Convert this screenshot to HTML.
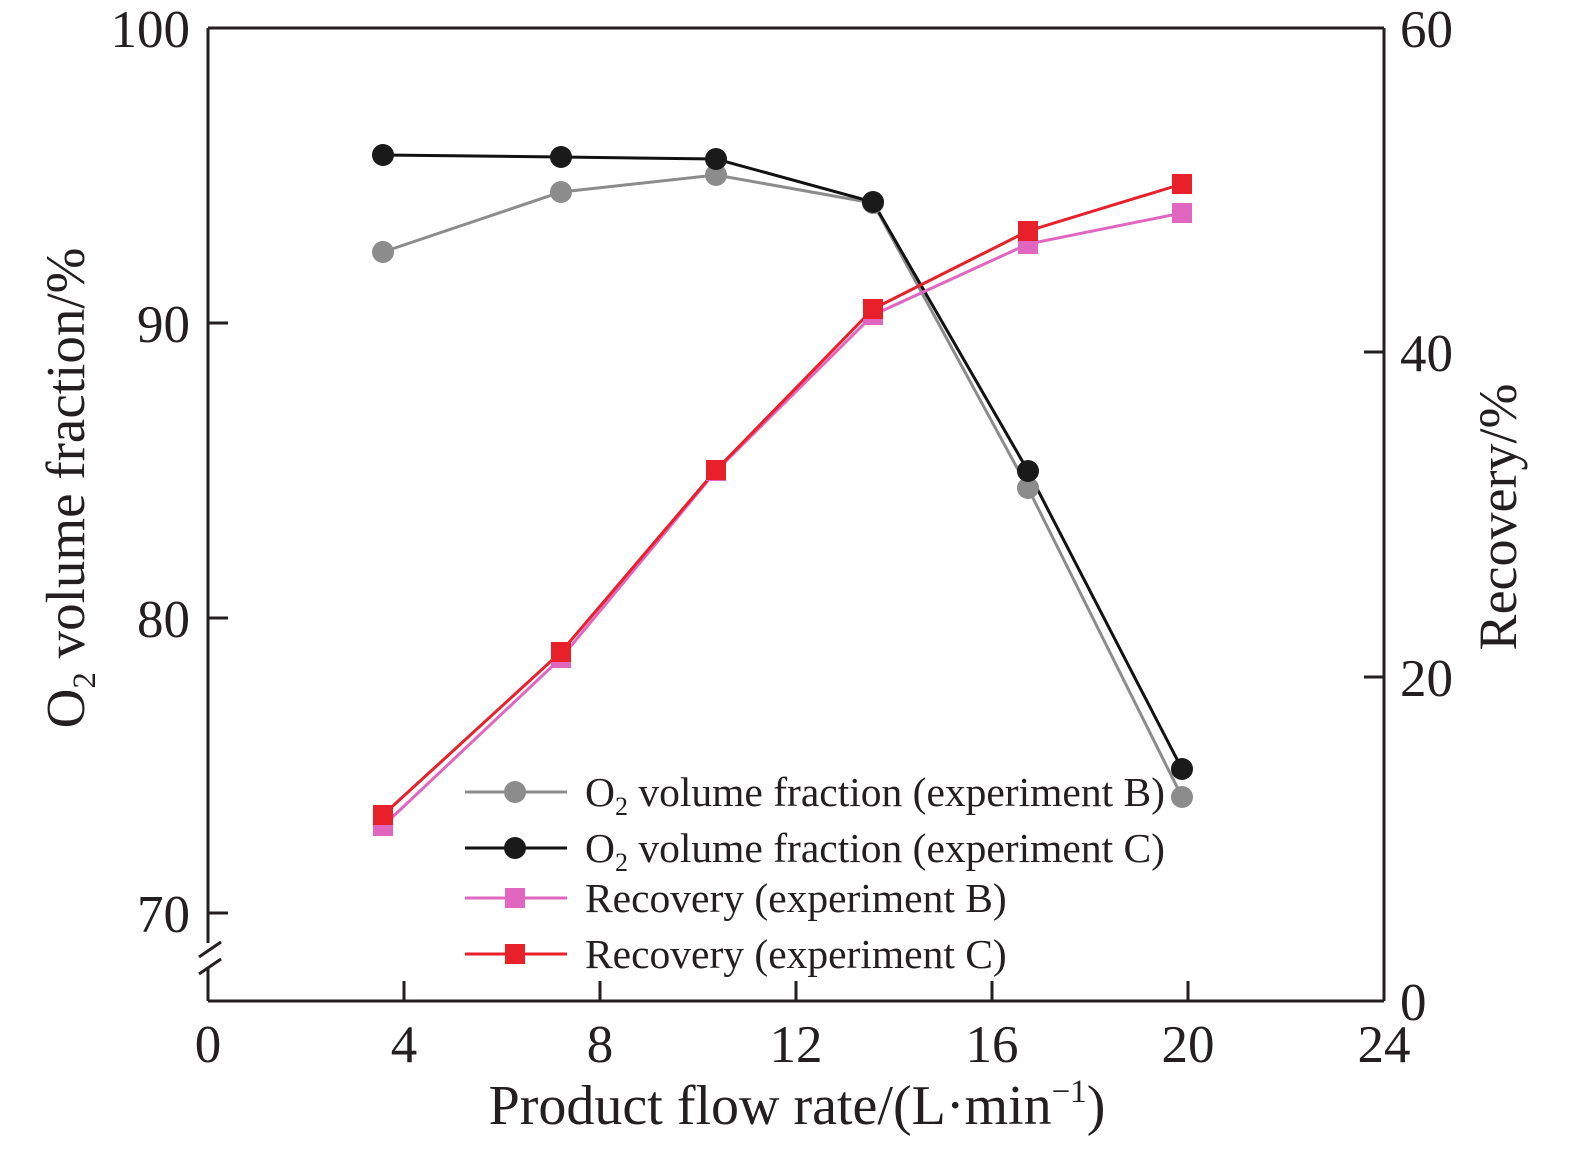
<!DOCTYPE html>
<html><head><meta charset="utf-8"><style>body{margin:0;background:#fff}</style></head><body>
<svg width="1575" height="1144" viewBox="0 0 1575 1144" xmlns="http://www.w3.org/2000/svg" font-family="Liberation Serif, serif" fill="#231f20">
<g stroke="#231f20" stroke-width="3" fill="none">
<line x1="208" y1="28" x2="1384" y2="28"/>
<line x1="1384" y1="28" x2="1384" y2="1001"/>
<line x1="208" y1="1001" x2="1384" y2="1001"/>
<line x1="208" y1="28" x2="208" y2="943"/>
<line x1="208" y1="967" x2="208" y2="1001"/>
<line x1="199" y1="957" x2="221" y2="942"/>
<line x1="199" y1="974" x2="221" y2="959"/>
<line x1="208" y1="323" x2="228" y2="323"/><line x1="208" y1="618" x2="228" y2="618"/><line x1="208" y1="913" x2="228" y2="913"/>
<line x1="1384" y1="352" x2="1364" y2="352"/><line x1="1384" y1="677" x2="1364" y2="677"/>
<line x1="404" y1="1001" x2="404" y2="981"/><line x1="600" y1="1001" x2="600" y2="981"/><line x1="796" y1="1001" x2="796" y2="981"/><line x1="992" y1="1001" x2="992" y2="981"/><line x1="1188" y1="1001" x2="1188" y2="981"/>
</g>
<g font-size="53" text-anchor="end">
<text x="190" y="47">100</text><text x="190" y="342">90</text><text x="190" y="637">80</text><text x="190" y="932">70</text>
</g>
<g font-size="53" text-anchor="start">
<text x="1400" y="47">60</text><text x="1400" y="371">40</text><text x="1400" y="696">20</text><text x="1400" y="1020">0</text>
</g>
<g font-size="53" text-anchor="middle">
<text x="208" y="1062">0</text><text x="404" y="1062">4</text><text x="600" y="1062">8</text><text x="796" y="1062">12</text><text x="992" y="1062">16</text><text x="1188" y="1062">20</text><text x="1384" y="1062">24</text>
</g>
<text x="797" y="1124" font-size="56" text-anchor="middle">Product flow rate/(L·min<tspan dy="-22" font-size="33">−1</tspan><tspan dy="22">)</tspan></text>
<text transform="translate(84,488) rotate(-90)" font-size="55" text-anchor="middle">O<tspan dy="11" font-size="33">2</tspan><tspan dy="-11"> volume fraction/%</tspan></text>
<text transform="translate(1516,517) rotate(-90)" font-size="54" text-anchor="middle">Recovery/%</text>
<g fill="none" stroke-width="3">
<polyline stroke="#8c8c8c" points="383,252 561,192 716,175 873,203 1028,488 1182,797"/>
<polyline stroke="#111" points="383,155 561,157 716,159 873,202 1028,471 1182,769"/>
<polyline stroke="#e066c0" points="383,826 561,658 716,471 873,315 1028,244 1182,213"/>
<polyline stroke="#e8202a" points="383,815 561,652 716,470 873,309 1028,231 1182,184"/>
</g>
<g fill="#8c8c8c"><circle cx="383" cy="252" r="11"/><circle cx="561" cy="192" r="11"/><circle cx="716" cy="175" r="11"/><circle cx="873" cy="203" r="11"/><circle cx="1028" cy="488" r="11"/><circle cx="1182" cy="797" r="11"/></g>
<g fill="#1a1a1a"><circle cx="383" cy="155" r="11"/><circle cx="561" cy="157" r="11"/><circle cx="716" cy="159" r="11"/><circle cx="873" cy="202" r="11"/><circle cx="1028" cy="471" r="11"/><circle cx="1182" cy="769" r="11"/></g>
<g fill="#e066c0"><rect x="373" y="816" width="20" height="20"/><rect x="551" y="648" width="20" height="20"/><rect x="706" y="461" width="20" height="20"/><rect x="863" y="305" width="20" height="20"/><rect x="1018" y="234" width="20" height="20"/><rect x="1172" y="203" width="20" height="20"/></g>
<g fill="#e8202a"><rect x="373" y="805" width="20" height="20"/><rect x="551" y="642" width="20" height="20"/><rect x="706" y="460" width="20" height="20"/><rect x="863" y="299" width="20" height="20"/><rect x="1018" y="221" width="20" height="20"/><rect x="1172" y="174" width="20" height="20"/></g>
<g stroke-width="3">
<line x1="465" y1="792" x2="567" y2="792" stroke="#8c8c8c"/><circle cx="515" cy="792" r="11" fill="#8c8c8c"/>
<line x1="465" y1="848" x2="567" y2="848" stroke="#111"/><circle cx="515" cy="848" r="11" fill="#1a1a1a"/>
<line x1="465" y1="898" x2="567" y2="898" stroke="#e066c0"/><rect x="505" y="888" width="20" height="20" fill="#e066c0"/>
<line x1="465" y1="954" x2="567" y2="954" stroke="#e8202a"/><rect x="505" y="944" width="20" height="20" fill="#e8202a"/>
</g>
<g font-size="41.5">
<text x="585" y="806">O<tspan dy="9" font-size="26">2</tspan><tspan dy="-9"> volume fraction (experiment B)</tspan></text>
<text x="585" y="862">O<tspan dy="9" font-size="26">2</tspan><tspan dy="-9"> volume fraction (experiment C)</tspan></text>
<text x="585" y="912">Recovery (experiment B)</text>
<text x="585" y="968">Recovery (experiment C)</text>
</g>
</svg>
</body></html>
